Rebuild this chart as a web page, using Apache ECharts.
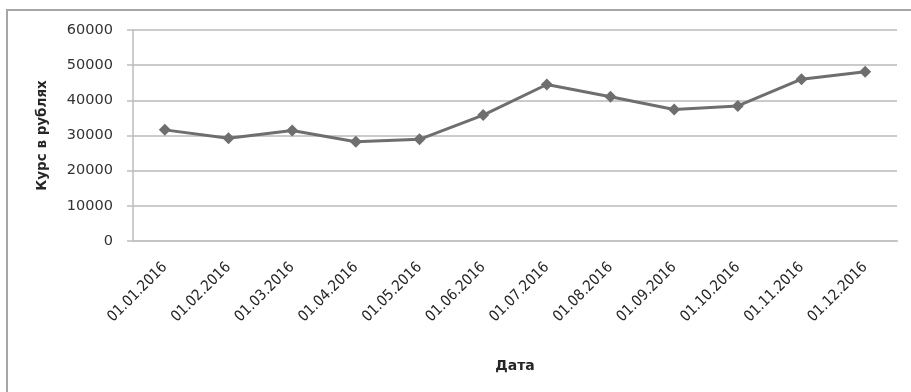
<!DOCTYPE html>
<html>
<head>
<meta charset="utf-8">
<script src="https://cdn.jsdelivr.net/npm/echarts@6/dist/echarts.min.js"></script>
<style>
  html, body { margin: 0; padding: 0; background: #fff; }
  #chart { width: 911px; height: 392px; }
</style>
</head>
<body>
<div id="chart"></div>
<script>
// Monthly rate in roubles, 2016
const dates = ['01.01.2016', '01.02.2016', '01.03.2016', '01.04.2016', '01.05.2016', '01.06.2016',
               '01.07.2016', '01.08.2016', '01.09.2016', '01.10.2016', '01.11.2016', '01.12.2016'];
const rate = [31600, 29200, 31400, 28200, 28900, 35800, 44500, 41000, 37400, 38400, 46000, 48100];
const yTicks = { min: 0, max: 60000, interval: 10000 };

const chart = echarts.init(document.getElementById('chart'), null, { renderer: 'canvas' });

chart.setOption({
  animation: false,
  backgroundColor: '#ffffff',
  graphic: [{
    type: 'rect',
    silent: true,
    shape: { x: 7, y: 10, width: 1000, height: 1000 },
    style: { fill: 'none', stroke: '#a6a6a6', lineWidth: 2 }
  }],
  grid: { left: 133, right: 14, top: 30, bottom: 151, containLabel: false },
  xAxis: {
    type: 'category',
    data: dates,
    boundaryGap: true,
    name: 'Дата',
    nameLocation: 'middle',
    nameGap: 118,
    nameTextStyle: { fontFamily: 'DejaVu Sans', fontWeight: 'bold', fontSize: 14, color: '#262626' },
    axisLine: { show: true, lineStyle: { color: '#c4c4c4', width: 2 } },
    axisTick: { show: false },
    axisLabel: {
      rotate: 45,
      margin: 24,
      interval: 0,
      fontFamily: '"Liberation Sans Narrow", "DejaVu Sans Condensed", sans-serif',
      fontSize: 15,
      color: '#262626'
    },
    splitLine: { show: false }
  },
  yAxis: {
    type: 'value',
    min: yTicks.min,
    max: yTicks.max,
    interval: yTicks.interval,
    name: 'Курс в рублях',
    nameLocation: 'middle',
    nameRotate: 90,
    nameGap: 84,
    nameTextStyle: { fontFamily: 'DejaVu Sans', fontWeight: 'bold', fontSize: 13.5, color: '#262626' },
    axisLine: { show: true, lineStyle: { color: '#bdbdbd', width: 1.5 } },
    axisTick: { show: true, length: 6, lineStyle: { color: '#bdbdbd', width: 1.5 } },
    axisLabel: {
      margin: 20,
      fontFamily: 'DejaVu Sans',
      fontSize: 14.5,
      color: '#333333',
      formatter: (v) => String(v)
    },
    splitLine: { show: true, lineStyle: { color: '#cbcbcb', width: 2 } }
  },
  series: [{
    type: 'line',
    data: rate,
    symbol: 'diamond',
    symbolSize: 12,
    showAllSymbol: true,
    lineStyle: { color: '#6e6e6e', width: 3 },
    itemStyle: { color: '#6e6e6e' },
    emphasis: { disabled: true }
  }]
});
</script>
</body>
</html>
